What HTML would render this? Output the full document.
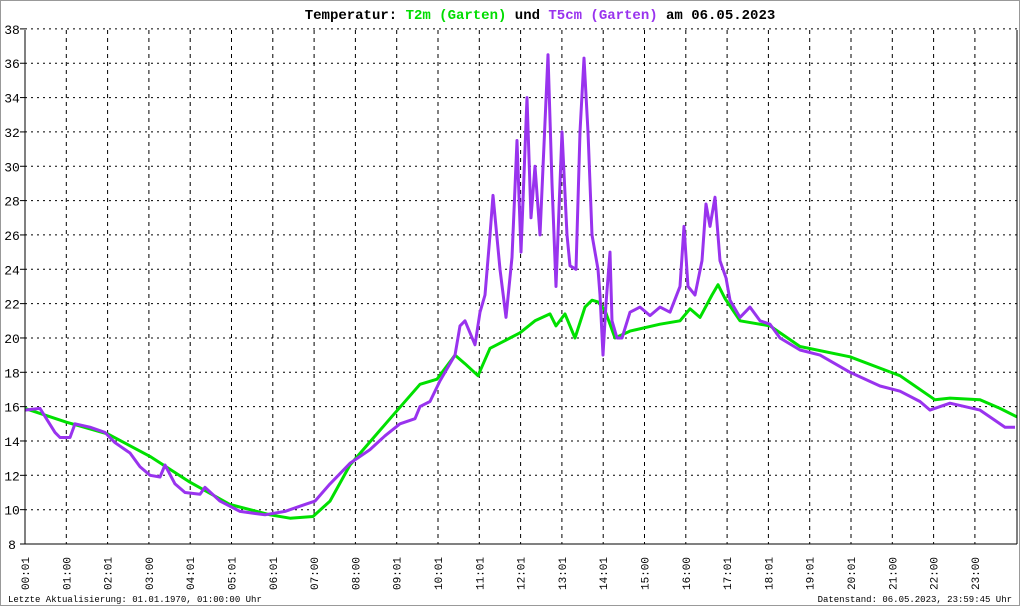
<!DOCTYPE html>
<html><head><meta charset="utf-8"><style>
body{margin:0;background:#fff;}
svg{display:block;font-family:"Liberation Mono",monospace;}
</style></head><body>
<svg id="s" width="1020" height="606" xmlns="http://www.w3.org/2000/svg">
<rect x="0.5" y="0.5" width="1019" height="605" fill="#fff" stroke="#999"/>
<text x="540" y="19" text-anchor="middle" font-size="14" font-weight="bold">Temperatur: <tspan fill="#00dd00">T2m (Garten)</tspan> und <tspan fill="#9933ee">T5cm (Garten)</tspan> am 06.05.2023</text>
<g id="grid"></g>
<polyline id="g" fill="none" stroke="#00e000" stroke-width="3" stroke-linejoin="round"/>
<polyline id="p" fill="none" stroke="#9933ee" stroke-width="3" stroke-linejoin="round"/>
<line x1="25" y1="30" x2="25" y2="544" stroke="#000"/>
<line x1="20" y1="544" x2="1017" y2="544" stroke="#000"/>
<line x1="1017" y1="30" x2="1017" y2="544" stroke="#000"/>
<text x="8" y="602" font-size="9">Letzte Aktualisierung: 01.01.1970, 01:00:00 Uhr</text>
<text x="1012" y="602" font-size="9" text-anchor="end">Datenstand: 06.05.2023, 23:59:45 Uhr</text>
</svg>
<script>
const Y=v=>544-(v-8)*17.17;
let g='';
for(let v=10;v<=38;v+=2){const y=Y(v).toFixed(1);g+=`<line x1="25" y1="${y}" x2="1017" y2="${y}" stroke="#000" stroke-dasharray="2,4"/>`;}
for(let v=8;v<=38;v+=2){const y=Y(v);g+=`<line x1="20" y1="${y}" x2="25" y2="${y}" stroke="#000"/><text x="12" y="${y+5}" font-size="13" text-anchor="middle">${v}</text>`;}
const L="00:01 01:00 02:01 03:00 04:01 05:01 06:01 07:00 08:00 09:01 10:01 11:01 12:01 13:01 14:01 15:00 16:00 17:01 18:01 19:01 20:01 21:00 22:00 23:00".split(' ');
L.forEach((t,i)=>{const x=25+i*41.3;if(i>0)g+=`<line x1="${x}" y1="30" x2="${x}" y2="544" stroke="#000" stroke-dasharray="4,4"/>`;g+=`<text transform="translate(${x+4},590) rotate(-90)" font-size="11">${t}</text>`;});
document.getElementById('grid').innerHTML=g;
const gp=[25,15.9,66,15.1,108,14.4,150,13.1,190,11.6,230,10.3,270,9.7,290,9.5,313,9.6,330,10.5,350,12.6,390,15.3,420,17.3,437,17.6,455,19,465,18.5,478,17.8,490,19.4,510,20.0,520,20.3,535,21.0,550,21.4,556,20.7,565,21.4,575,20,585,21.8,592,22.2,598,22.1,605,21.6,615,20,630,20.4,660,20.8,680,21.0,690,21.7,700,21.2,712,22.5,718,23.1,725,22.3,740,21,770,20.7,800,19.5,850,18.9,900,17.8,935,16.4,950,16.5,980,16.4,1000,15.9,1017,15.4];
const pp=[25,15.8,40,15.9,55,14.5,60,14.2,70,14.2,75,15,90,14.8,105,14.5,115,13.9,130,13.3,140,12.5,150,12,160,11.9,165,12.6,175,11.5,185,11,200,10.9,205,11.3,220,10.5,240,9.9,265,9.7,285,9.9,300,10.2,315,10.5,330,11.5,350,12.7,370,13.5,385,14.3,400,15,415,15.3,420,16,430,16.3,440,17.5,445,18,455,19,460,20.7,465,21,470,20.3,475,19.6,480,21.5,485,22.5,490,26,493,28.3,500,24,506,21.2,512,24.7,517,31.5,521,25,527,34,531,27,535,30,540,26,548,36.5,552,29,556,23,562,32,567,26,570,24.2,576,24,580,32,584,36.3,588,32,592,26,598,24,600,22.5,603,19,606,22,610,25,612,21,617,20,622,20,630,21.5,640,21.8,650,21.3,660,21.8,670,21.5,680,23,684,26.5,688,23,695,22.5,702,24.5,706,27.8,710,26.5,715,28.2,720,24.5,726,23.5,730,22.2,740,21.2,750,21.8,760,21,770,20.8,780,20,800,19.3,820,19,850,18.0,880,17.2,900,16.9,920,16.3,930,15.8,950,16.2,980,15.8,995,15.2,1005,14.8,1015,14.8];
const pts=a=>{let s='';for(let i=0;i<a.length;i+=2)s+=a[i]+','+Y(a[i+1]).toFixed(1)+' ';return s;};
document.getElementById('g').setAttribute('points',pts(gp));
document.getElementById('p').setAttribute('points',pts(pp));
</script>
</body></html>
